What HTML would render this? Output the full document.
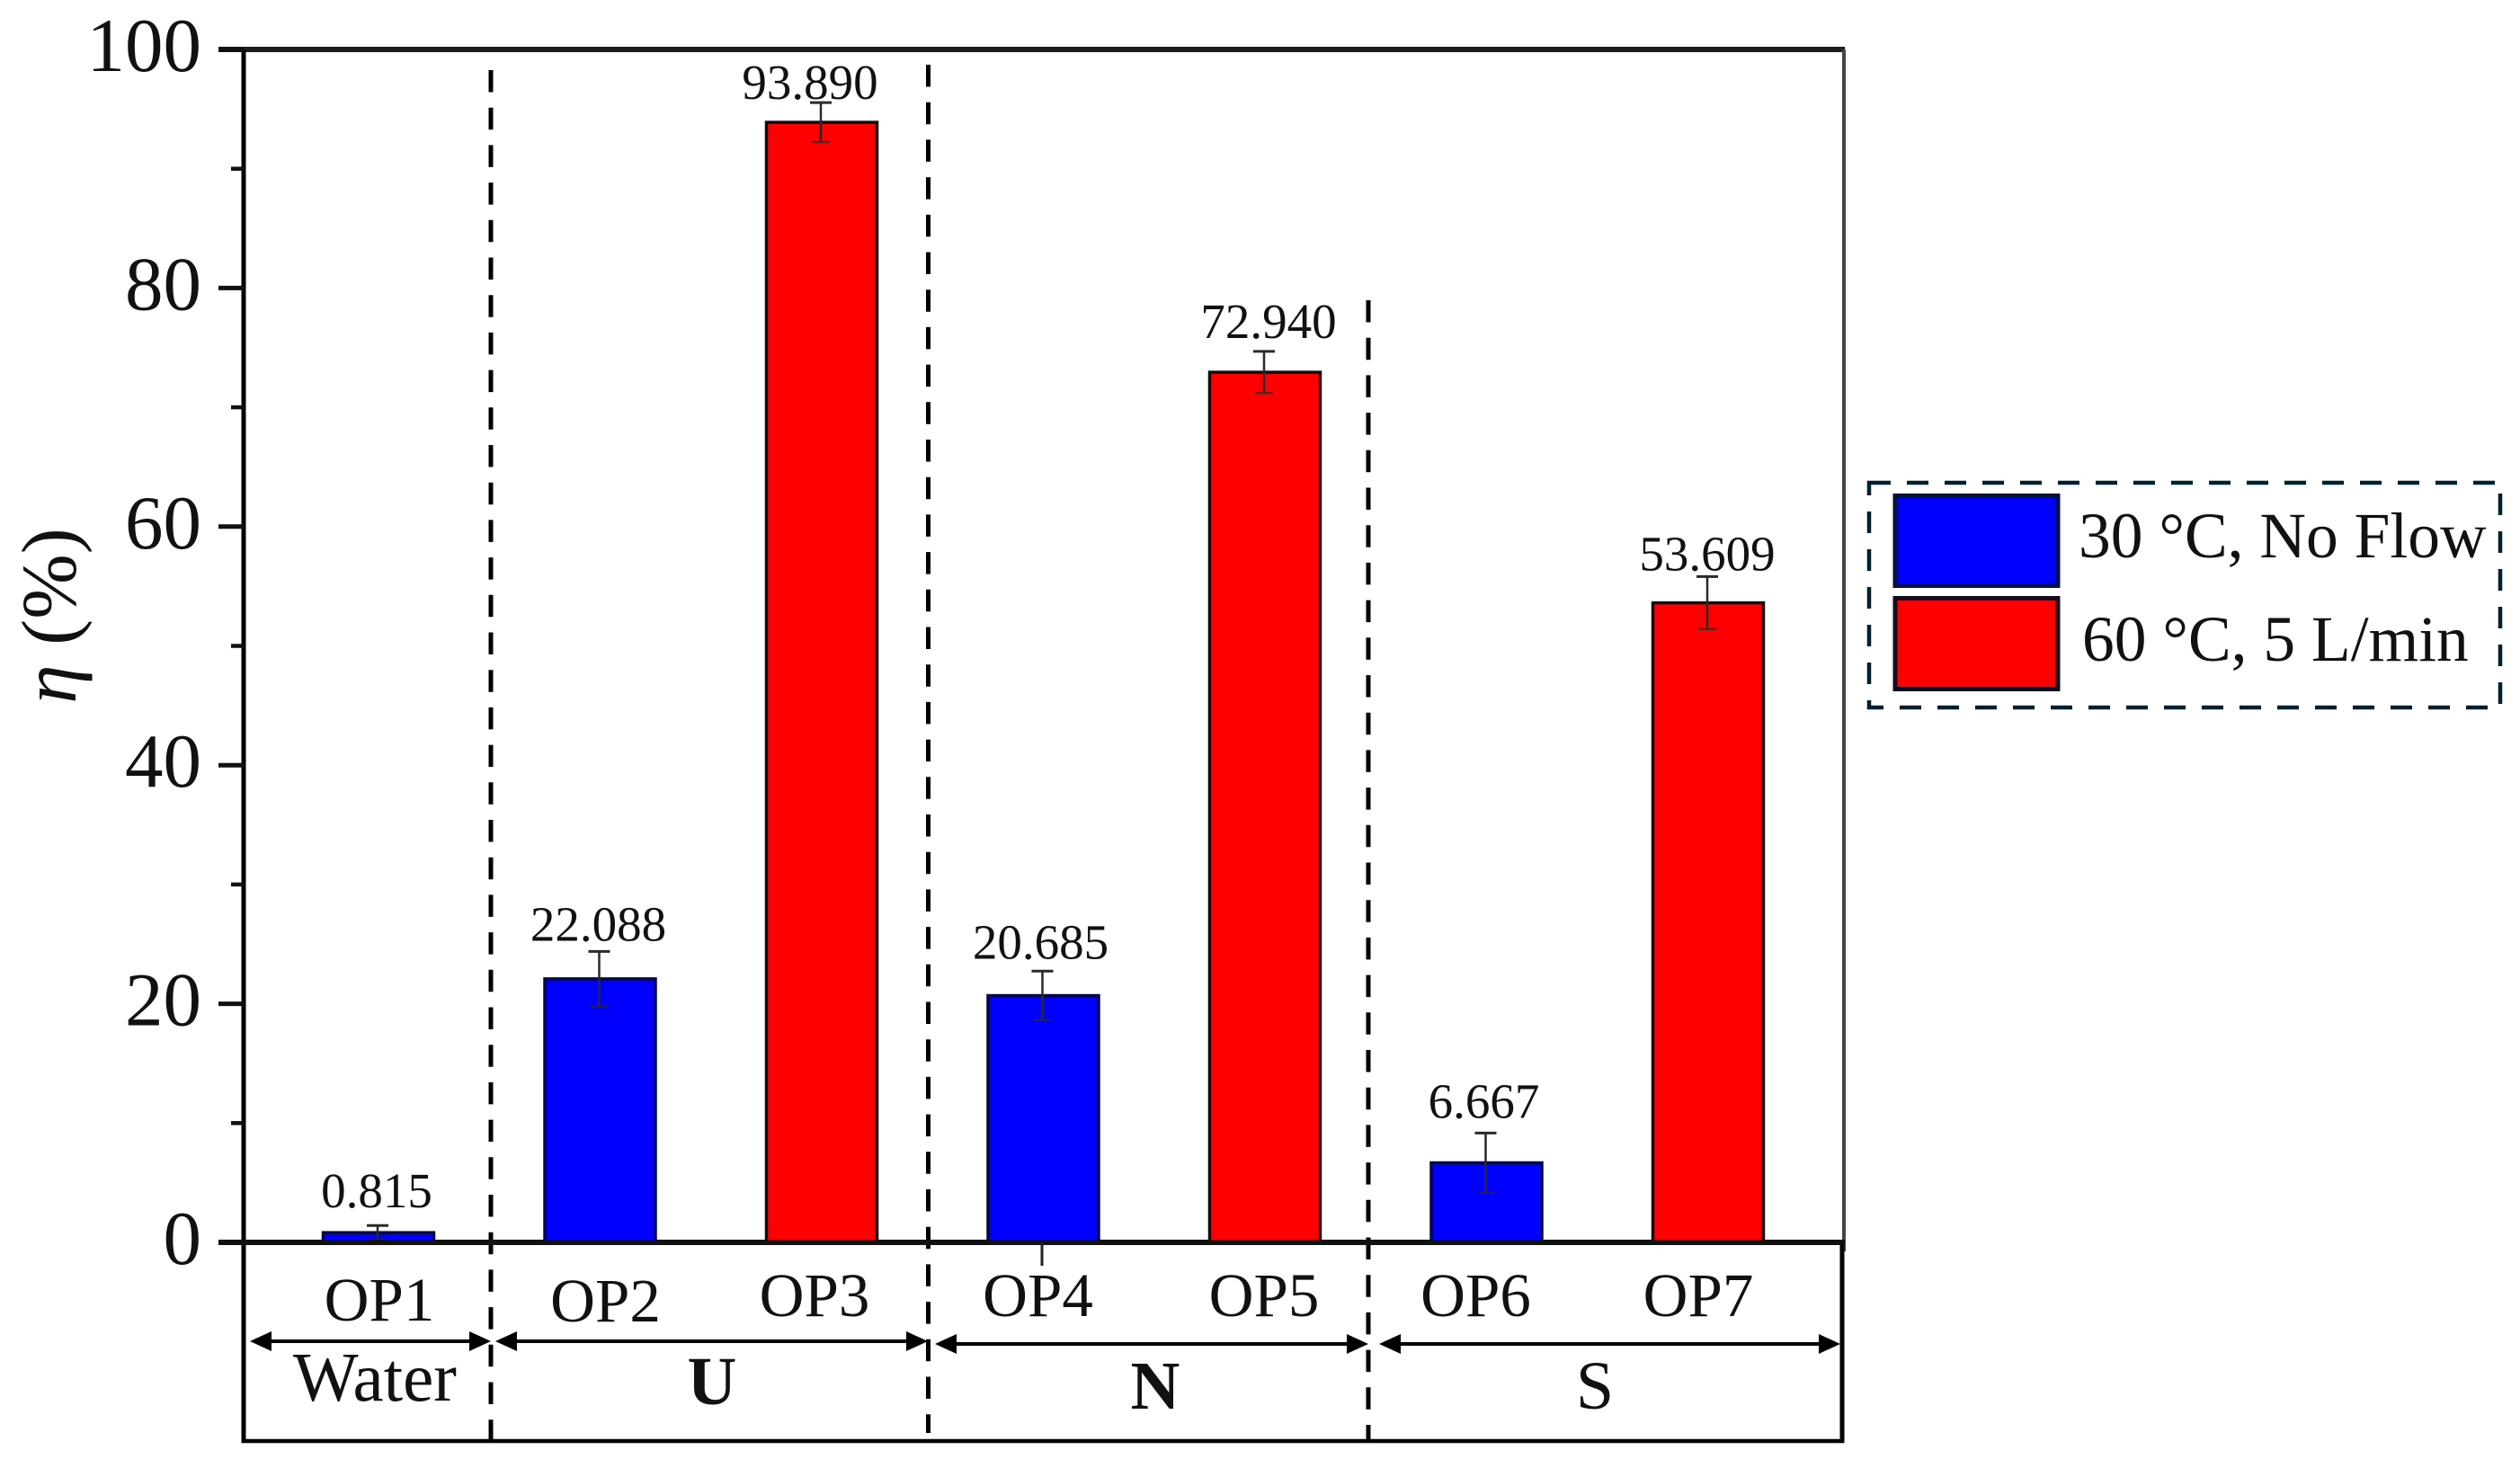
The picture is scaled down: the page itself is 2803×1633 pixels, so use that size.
<!DOCTYPE html>
<html lang="en">
<head>
<meta charset="utf-8">
<title>Efficiency by operating point</title>
<style>
html,body{margin:0;padding:0;background:#fff;}
svg{display:block;font-family:"Liberation Serif",serif;}
</style>
</head>
<body>
<svg id="chart" xmlns="http://www.w3.org/2000/svg" width="2803" height="1633" viewBox="0 0 2803 1633">
  <rect width="2803" height="1633" fill="#fff"/>
  <g id="marks"></g>
  <text transform="translate(84,685) rotate(-90)" text-anchor="middle" font-size="87" fill="#111"><tspan font-style="italic">η</tspan> (%)</text>
  <g>
    <rect x="2079" y="537" width="702" height="250" fill="none" stroke="#02202e" stroke-width="4.5" stroke-dasharray="24 18"/>
    <rect x="2108" y="551.5" width="181" height="100" fill="#0000ff" stroke="#04123c" stroke-width="5"/>
    <rect x="2108" y="665.5" width="181" height="101" fill="#ff0000" stroke="#140c20" stroke-width="5"/>
    <text x="2312" y="620" font-size="71.5" fill="#111">30 °C, No Flow</text>
    <text x="2316" y="735" font-size="71.5" fill="#111">60 °C, 5 L/min</text>
  </g>
</svg>
<script>
const categories = ['OP1','OP2','OP3','OP4','OP5','OP6','OP7'];
const efficiency = [0.815,22.088,93.890,20.685,72.940,6.667,53.609];
const errors = [0.6,2.3,1.65,2.05,1.75,2.5,2.2];
const seriesIndex = [0,0,1,0,1,0,1];
const seriesColors = ['#0000ff','#ff0000'];
const seriesBorders = ['#06064a','#1a0a0a'];
const majorTicks = [0,20,40,60,80,100];
const minorTicks = [10,30,50,70,90];
const groupNames = ['Water','U','N','S'];

const NS = 'http://www.w3.org/2000/svg';
const root = document.getElementById('marks');
const Y0 = 1382, PX_PER_UNIT = 13.27;
const y = v => Y0 - v * PX_PER_UNIT;
const xc = i => 421 + 246.5 * i;
const BAR_W = 123;

function mk(tag, attrs, parent) {
  const el = document.createElementNS(NS, tag);
  for (const k in attrs) el.setAttribute(k, attrs[k]);
  (parent || root).appendChild(el);
  return el;
}
function line(x1, y1, x2, y2, color, width, extra) {
  return mk('line', Object.assign({x1, y1, x2, y2, stroke: color, 'stroke-width': width}, extra || {}));
}
function label(text, x, yy, size, extra) {
  const t = mk('text', Object.assign({x, y: yy, 'font-size': size, 'text-anchor': 'middle', fill: '#111'}, extra || {}));
  t.textContent = text;
  return t;
}

/* small per-label nudges to follow the hand-placed annotations of the figure */
const valueDx = [-2,-2,-13,-3,4,-3,-1];
const valueGap = [20,12,4,14,15,17,7];
const catDx = [1,6,-8,-6,-1,-12,-11];
const catBase = [1469,1470,1464,1464,1464,1464,1464];

/* dashed separators */
const sepA = line(546, 78, 546, 1603, '#000', 5, {'stroke-dasharray': '24.5 17.2'});


const sepB = line(1032.5, 72, 1032.5, 1594, '#000', 5, {'stroke-dasharray': '24.5 17.2'});


const sepC = line(1522, 334, 1522, 1603, '#000', 5, {'stroke-dasharray': '24.5 17.2'});



/* bars, error bars, value labels, category labels */
categories.forEach((name, i) => {
  const v = efficiency[i], e = errors[i], s = seriesIndex[i];
  const top = y(v);
  const bar = mk('rect', {x: xc(i) - BAR_W / 2, y: top, width: BAR_W, height: Y0 - top,
    fill: seriesColors[s], stroke: seriesBorders[s], 'stroke-width': 3.5});
  
  

  const errX = xc(i) - 1;
  const stem = line(errX, y(v + e), errX, y(v - e), '#2a2a2a', 2.5);
  
  
  const capTop = line(errX - 12, y(v + e), errX + 12, y(v + e), '#2a2a2a', 3);
  
  
  const capLow = line(errX - 10, y(v - e), errX + 10, y(v - e), '#2a2a2a', 2.5, {opacity: 0.7});
  
  

  const val = label(v.toFixed(3), xc(i) + valueDx[i], y(v + e) - valueGap[i], 55);
  
  

  const cat = label(name, xc(i) + catDx[i], catBase[i], 69);
  
  
});

/* frame */
const axisTop = line(243, 55, 2052, 55, '#1c1c1c', 6);


const axisRightUpper = line(2051, 55, 2051, 1392, '#444', 4);


const axisRightLower = line(2049, 1382, 2049, 1605, '#000', 5);


const axisLeft = line(271, 55, 271, 1605, '#000', 5);


const axisBottom = line(269, 1603, 2051, 1603, '#000', 4.5);


const axisX = line(243, Y0, 2052, Y0, '#111', 6);


const op4Tick = line(1159, Y0, 1159, 1408, '#222', 3);



/* y ticks */
majorTicks.forEach(v => {
  const t = line(243, y(v), 271, y(v), '#111', 5);
  
  
  const l = label(String(v), 224, y(v) + 24, 85, {'text-anchor': 'end'});
  
  
});
minorTicks.forEach(v => {
  const t = line(257, y(v), 271, y(v), '#111', 4.5);
  
  
});

/* group ranges: arrows and group labels */
const groupX1 = [278,551,1040,1534];
const groupX2 = [546,1032,1522,2047];
const groupY = [1492,1492,1495,1495];
const groupLabelX = [417,792,1285,1774];
const groupLabelY = [1558,1562,1567,1567];
const groupLabelSize = [77,76,76,76];
const groupLabelWeight = ['normal','bold','bold','normal'];
groupNames.forEach((name, i) => {
  const a = groupX1[i], b = groupX2[i], yy = groupY[i];
  const key = name.toLowerCase();
  const shaft = line(a + 10, yy, b - 10, yy, '#000', 4);
  
  
  const headL = mk('polygon', {points: `${a},${yy} ${a + 24},${yy - 11} ${a + 24},${yy + 11}`, fill: '#000'});
  
  
  const headR = mk('polygon', {points: `${b},${yy} ${b - 24},${yy - 11} ${b - 24},${yy + 11}`, fill: '#000'});
  
  
  const l = label(name, groupLabelX[i], groupLabelY[i], groupLabelSize[i], {'font-weight': groupLabelWeight[i]});
  
  
});
</script>
</body>
</html>
